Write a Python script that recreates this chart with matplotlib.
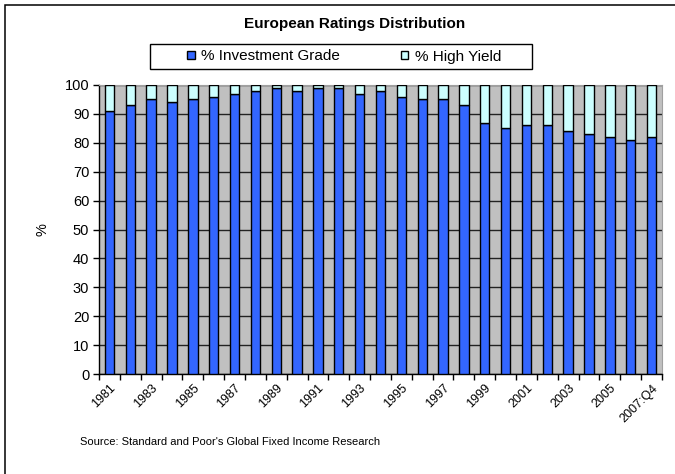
import matplotlib
matplotlib.use("Agg")
import matplotlib.pyplot as plt
from matplotlib.patches import Rectangle, Patch

plt.rcParams['font.family'] = ['Liberation Sans', 'DejaVu Sans']

years = [str(y) for y in range(1981, 2007)] + ["2007:Q4"]
inv_grade = [91, 93, 95, 94, 95, 96, 97, 98, 99, 98, 99, 99, 97,
             98, 96, 95, 95, 93, 87, 85, 86, 86, 84, 83, 82, 81, 82]
high_yield = [100 - v for v in inv_grade]

W, H = 675, 474
fig = plt.figure(figsize=(W / 100, H / 100), dpi=100)

def px(x0, y0, x1, y1):
    # pixel box (top-left origin) -> figure fraction rect
    return [x0 / W, 1 - y1 / H, (x1 - x0) / W, (y1 - y0) / H]

ax = fig.add_axes(px(99, 85, 662, 374))
ax.set_facecolor('#C0C0C0')

x = list(range(len(years)))
ax.bar(x, inv_grade, width=0.45, color='#3366FF', edgecolor='black',
       linewidth=1, zorder=3)
ax.bar(x, high_yield, width=0.45, bottom=inv_grade, color='#CCFFFF',
       edgecolor='black', linewidth=1, zorder=3)

ax.set_xlim(-0.5, len(years) - 0.5)
ax.set_ylim(0, 100)
ax.set_yticks(range(0, 101, 10))
ax.yaxis.grid(True, color='#222222', linewidth=1, zorder=1)
ax.tick_params(axis='y', direction='out', length=4, width=1, labelsize=10.5,
               pad=3)

# labels centred on every other bar, tick marks between categories
ax.set_xticks(x[::2])
ax.set_xticklabels(years[::2], rotation=45, ha='right',
                   rotation_mode='anchor', fontsize=9)
ax.tick_params(axis='x', which='major', length=0, pad=6)
ax.set_xticks([i - 0.5 for i in range(len(years) + 1)], minor=True)
ax.tick_params(axis='x', which='minor', direction='out', length=4, width=1)

for s in ['top', 'right']:
    ax.spines[s].set_color('#A0A0A0')
ax.spines['left'].set_linewidth(1)
ax.spines['bottom'].set_linewidth(1)

ax.set_ylabel('%', fontsize=10.5)
ax.yaxis.set_label_coords(-0.088, 0.5)

fig.text(355 / W, 1 - 24 / H, 'European Ratings Distribution',
         ha='center', va='center', fontsize=11, fontweight='bold')

# legend box
fig.add_artist(Rectangle(px(150, 44, 532, 69)[:2], 382 / W, 25 / H,
                         transform=fig.transFigure, facecolor='white',
                         edgecolor='black', linewidth=1))
handles = [Patch(facecolor='#3366FF', edgecolor='black', label='% Investment Grade'),
           Patch(facecolor='#CCFFFF', edgecolor='black', label='% High Yield')]
fig.legend(handles=handles, loc='center', bbox_to_anchor=(344 / W, 1 - 56.5 / H),
           ncol=2, frameon=False, fontsize=11, handlelength=0.5,
           handleheight=0.5, handletextpad=0.4, columnspacing=4.0)

fig.text(80 / W, 1 - 442 / H,
         "Source: Standard and Poor's Global Fixed Income Research",
         ha='left', va='center', fontsize=8)

# outer chart border (open at right and bottom like the crop)
fig.add_artist(Rectangle((5 / W, -0.1), 1.0, 1.1 - 5 / H,
                         transform=fig.transFigure, facecolor='none',
                         edgecolor='black', linewidth=1.1))

fig.savefig('out.png', dpi=100)
